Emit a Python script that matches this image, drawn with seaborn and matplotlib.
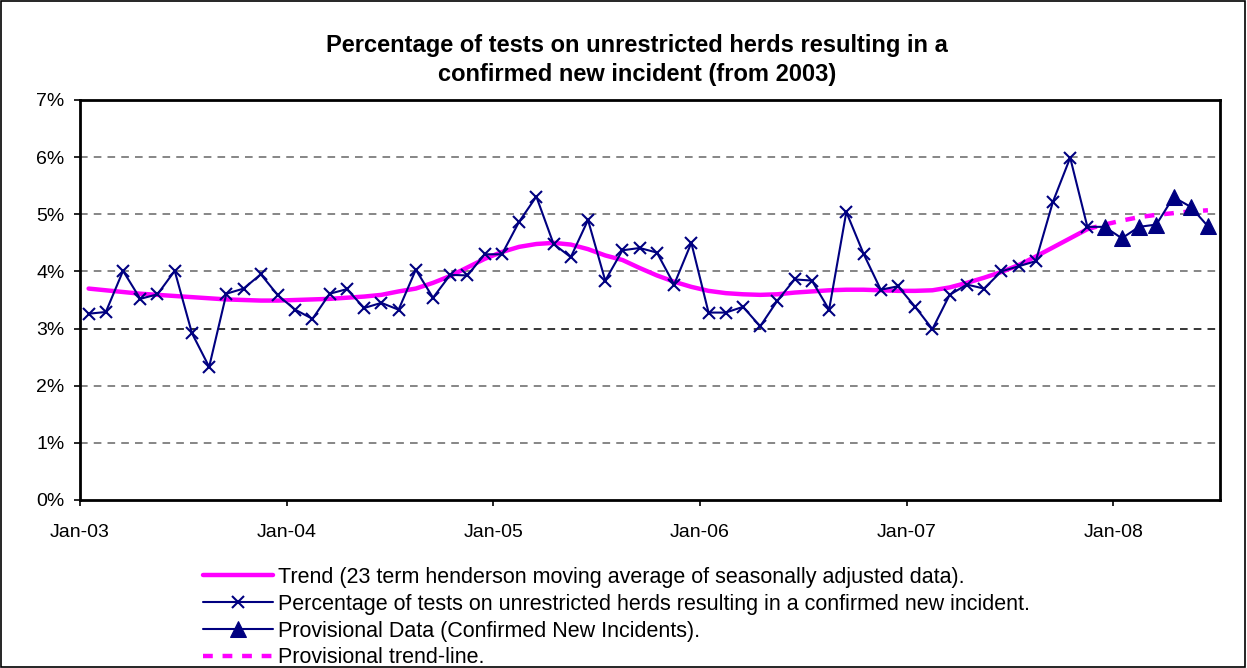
import matplotlib
matplotlib.use("Agg")
import matplotlib.pyplot as plt
from matplotlib.patches import Rectangle
import numpy as np
import seaborn as sns

# monthly values, Jan-03 .. Jun-08 (percent)
pct_tests = [3.26, 3.29, 4.01, 3.52, 3.60, 4.01, 2.92, 2.33, 3.61, 3.70, 3.95, 3.58,
             3.33, 3.17, 3.61, 3.69, 3.36, 3.45, 3.33, 4.03, 3.54, 3.94, 3.93, 4.30,
             4.30, 4.87, 5.31, 4.48, 4.25, 4.90, 3.84, 4.37, 4.41, 4.33, 3.77, 4.50,
             3.28, 3.28, 3.38, 3.04, 3.49, 3.86, 3.84, 3.33, 5.04, 4.31, 3.68, 3.74,
             3.38, 2.99, 3.59, 3.77, 3.70, 4.00, 4.09, 4.18, 5.22, 5.99, 4.78]
provisional = [4.78, 4.78, 4.58, 4.78, 4.82, 5.30, 5.13, 4.79]
trend = [3.70, 3.67, 3.64, 3.61, 3.59, 3.57, 3.55, 3.53, 3.51, 3.50, 3.49, 3.49,
         3.50, 3.51, 3.52, 3.54, 3.56, 3.59, 3.65, 3.70, 3.80, 3.92, 4.07, 4.22,
         4.34, 4.43, 4.48, 4.50, 4.47, 4.39, 4.28, 4.20, 4.06, 3.93, 3.82, 3.73,
         3.66, 3.62, 3.60, 3.59, 3.60, 3.63, 3.65, 3.67, 3.68, 3.68, 3.67, 3.66,
         3.66, 3.67, 3.72, 3.80, 3.89, 3.99, 4.11, 4.26, 4.42, 4.58, 4.74]
provisional_trend = [4.74, 4.82, 4.89, 4.95, 4.99, 5.02, 5.05, 5.07]

x_tick_labels = ["Jan-03", "Jan-04", "Jan-05", "Jan-06", "Jan-07", "Jan-08"]
y_tick_labels = ["0%", "1%", "2%", "3%", "4%", "5%", "6%", "7%"]

title = ("Percentage of tests on unrestricted herds resulting in a\n"
         "confirmed new incident (from 2003)")
legend_labels = [
    "Trend (23 term henderson moving average of seasonally adjusted data).",
    "Percentage of tests on unrestricted herds resulting in a confirmed new incident.",
    "Provisional Data (Confirmed New Incidents).",
    "Provisional trend-line.",
]

sns.set_style("white")
plt.rcParams["font.family"] = ["Liberation Sans", "DejaVu Sans"]
plt.rcParams["text.color"] = "black"
plt.rcParams["xtick.color"] = "black"
plt.rcParams["ytick.color"] = "black"

navy = "#000080"
magenta = "#FF00FF"

fig = plt.figure(figsize=(12.47, 6.68), dpi=100)
W, H = 1247, 668
ax = fig.add_axes([80 / W, 1 - 500 / H, (1220 - 80) / W, 400 / H])

# points sit in the middle of each month
x_main = np.arange(len(pct_tests)) + 0.5
x_prov = np.arange(len(pct_tests) - 1, len(pct_tests) - 1 + len(provisional)) + 0.5

sns.lineplot(x=x_main, y=trend, ax=ax, color=magenta, linewidth=3.2,
             label=legend_labels[0], zorder=2)
sns.lineplot(x=x_main, y=pct_tests, ax=ax, color=navy, linewidth=1.5,
             marker="x", markersize=8.5, markeredgewidth=1.5, markeredgecolor=navy,
             label=legend_labels[1], zorder=3)
sns.lineplot(x=x_prov, y=provisional, ax=ax, color=navy, linewidth=1.5,
             marker="^", markersize=11, markeredgecolor=navy, markerfacecolor=navy,
             markevery=list(range(1, len(provisional))),
             label=legend_labels[2], zorder=3)
sns.lineplot(x=x_prov, y=provisional_trend, ax=ax, color=magenta, linewidth=3.2,
             linestyle=(0, (2.2, 2.2)), label=legend_labels[3], zorder=2)

ax.set_xlim(0, 66.2)
ax.set_ylim(0, 7)
ax.set_xticks(np.arange(len(x_tick_labels)) * 12)
ax.set_xticklabels(x_tick_labels)
ax.set_yticks(range(len(y_tick_labels)))
ax.set_yticklabels(y_tick_labels)
ax.tick_params(axis="both", direction="out", length=4, width=1.2, color="black",
               labelcolor="black", labelsize=14, bottom=True, left=True)
ax.tick_params(axis="x", pad=13)
ax.tick_params(axis="y", pad=7)
ax.set_xlabel("")
ax.set_ylabel("")

for v in range(1, 7):
    ax.axhline(v, color="black" if v == 3 else "#666666", linestyle=(0, (5, 4)),
               linewidth=1.1, zorder=1)

for side in ["left", "right", "top", "bottom"]:
    ax.spines[side].set_visible(True)
    ax.spines[side].set_color("black")
    ax.spines[side].set_linewidth(2)

fig.text(637 / W, 1 - 60 / H, title, ha="center", va="center", fontsize=17,
         fontweight="bold", linespacing=1.35, color="black")

handles, labels = ax.get_legend_handles_labels()
ax.legend(handles, labels, loc="upper left", bbox_to_anchor=(203 / W, 1 - 567 / H),
          bbox_transform=fig.transFigure, frameon=False, fontsize=15.5,
          handlelength=3.25, handletextpad=0.25, labelspacing=0.27, borderaxespad=0,
          borderpad=0)

fig.patches.append(Rectangle((0.001, 0.001), 0.997, 0.997, transform=fig.transFigure,
                             fill=False, edgecolor="black", linewidth=1.2))

fig.savefig("out.png", dpi=100)
